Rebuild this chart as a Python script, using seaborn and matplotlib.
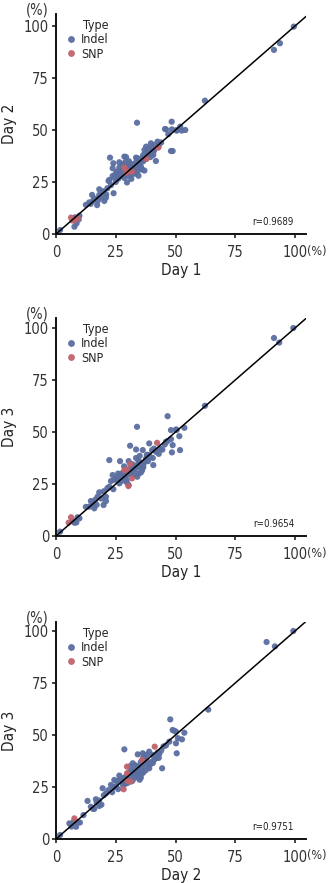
import matplotlib
matplotlib.use("Agg")
import matplotlib.pyplot as plt
import seaborn as sns
import pandas as pd

# ---- data ---------------------------------------------------------------
# panel 1: Day 1 vs Day 2
p1_indel_x = [99.5, 93.7, 91.2, 62.3, 33.9, 48.4, 46.0, 48.5, 52.0, 54.1, 50.5, 42.5, 39.7,
              37.7, 39.0, 41.1, 40.4, 40.7, 41.8, 48.1, 48.8, 37.0, 22.6, 28.6, 33.5, 29.3,
              23.7, 26.5, 29.7, 23.7, 22.3, 24.1, 18.1, 18.1, 15.1, 19.5, 13.9, 17.2, 20.2,
              20.9, 16.0, 9.8, 8.6, 7.7, 1.7, 35.0, 34.5, 36.0, 37.0, 33.0, 32.0, 31.0, 30.0,
              29.0, 27.5, 26.5, 24.0, 25.5, 27.0, 28.5, 31.5, 32.5, 34.0, 26.0, 24.5, 21.5,
              20.0, 16.5, 14.5, 12.5, 36.0, 31.0, 28.0, 33.5, 35.0, 37.5, 38.5, 39.5, 41.0,
              44.0, 31.5, 34.5, 35.5, 22.0, 26.5, 33.0, 34.0, 36.5, 38.0, 30.5, 25.0, 47.0,
              45.6, 52.6, 50.5, 30.0, 32.5, 34.0, 35.5, 29.5, 27.5, 26.0, 25.0, 36.5, 38.5,
              40.0, 43.0, 19.0, 17.5, 15.5, 21.0, 23.0, 28.0, 30.5, 9.5, 8.0]
p1_indel_y = [99.7, 91.7, 88.5, 64.1, 53.5, 54.0, 50.3, 50.3, 51.6, 50.0, 49.7, 44.4, 43.6,
              42.0, 41.2, 42.8, 39.6, 38.0, 35.1, 39.9, 39.9, 40.4, 36.7, 37.2, 36.7, 37.0,
              31.6, 27.6, 24.8, 27.9, 26.0, 19.6, 21.5, 18.8, 18.8, 20.4, 15.2, 13.9, 15.9,
              17.5, 16.8, 8.8, 5.1, 3.5, 1.9, 35.0, 33.0, 31.0, 30.5, 31.5, 33.5, 34.0, 33.0,
              34.5, 33.0, 32.0, 34.0, 30.0, 28.0, 27.0, 28.5, 29.5, 30.0, 26.5, 27.0, 22.0,
              20.5, 17.0, 14.5, 14.0, 36.5, 31.5, 29.5, 34.5, 33.5, 36.0, 38.0, 37.0, 40.0,
              44.0, 26.5, 28.0, 31.5, 25.5, 34.5, 29.0, 32.0, 35.0, 39.5, 31.0, 29.0, 48.0,
              50.5, 49.7, 50.0, 28.0, 31.0, 36.5, 32.5, 32.5, 30.5, 29.0, 25.0, 38.0, 39.0,
              41.5, 42.5, 17.5, 16.0, 16.0, 19.0, 23.5, 33.5, 35.0, 7.0, 8.0]
p1_snp_x = [42.8, 37.9, 28.6, 30.0, 31.8, 29.5, 6.3, 7.7, 9.1, 6.8]
p1_snp_y = [41.5, 36.1, 31.9, 30.0, 30.0, 29.5, 7.9, 6.7, 7.5, 6.5]

# panel 2: Day 1 vs Day 3
p2_indel_x = [99.3, 91.2, 93.4, 62.3, 46.7, 33.9, 48.1, 50.2, 53.7, 51.6, 48.1, 48.8, 48.5,
              51.9, 46.0, 39.0, 31.0, 33.5, 36.3, 40.2, 41.8, 22.3, 26.8, 30.4, 37.7, 40.7,
              34.2, 23.7, 23.0, 25.8, 26.5, 29.6, 30.4, 22.3, 18.1, 20.9, 20.9, 19.9, 17.4,
              14.6, 13.9, 16.0, 9.8, 7.7, 7.0, 1.7, 35.0, 34.0, 33.0, 32.0, 36.0, 37.0, 38.5,
              35.5, 34.5, 32.5, 31.5, 30.0, 29.0, 28.0, 27.0, 26.0, 25.0, 24.5, 33.5, 36.5,
              38.0, 39.5, 42.0, 43.5, 44.5, 32.0, 34.0, 27.5, 21.5, 20.0, 16.5, 15.5, 12.5,
              9.0, 43.0, 40.5, 35.0, 28.5, 31.0, 36.0, 29.5, 24.0, 45.5, 46.5, 33.0, 34.5,
              36.5, 35.5, 31.0, 29.0, 27.0, 25.5, 38.5, 41.0, 19.0, 17.0, 8.5, 50.5]
p2_indel_y = [100.0, 95.2, 93.0, 62.6, 57.6, 52.5, 50.9, 51.2, 52.0, 48.0, 46.6, 43.7, 40.2,
              41.3, 45.3, 44.5, 43.4, 41.6, 41.3, 41.3, 40.5, 36.5, 36.0, 36.0, 37.3, 34.1,
              33.3, 29.3, 26.4, 26.9, 25.3, 25.8, 24.5, 23.7, 21.0, 18.9, 16.8, 14.9, 18.9,
              16.8, 14.1, 13.3, 8.5, 6.4, 7.2, 2.1, 35.5, 34.0, 33.0, 31.5, 32.5, 35.5, 36.0,
              30.5, 30.0, 29.5, 31.0, 30.0, 29.0, 30.5, 28.5, 30.0, 27.5, 27.0, 37.5, 33.0,
              39.0, 38.0, 41.0, 42.0, 41.5, 34.5, 28.5, 26.5, 23.0, 21.5, 17.5, 15.5, 14.0,
              9.0, 39.5, 37.5, 38.5, 33.5, 29.5, 31.5, 27.0, 22.5, 44.0, 45.5, 32.0, 36.0,
              34.0, 33.0, 32.5, 27.5, 29.5, 28.0, 39.0, 42.0, 18.0, 15.0, 6.5, 51.0]
p2_snp_x = [42.3, 31.0, 28.6, 29.6, 31.8, 30.3, 6.3, 5.3]
p2_snp_y = [44.8, 34.6, 31.7, 32.0, 27.7, 24.0, 9.0, 6.4]

# panel 3: Day 2 vs Day 3
p3_indel_x = [99.3, 88.1, 91.6, 63.7, 47.8, 48.8, 50.2, 53.7, 52.7, 50.2, 47.4, 50.5, 44.4,
              28.6, 34.2, 36.3, 39.0, 40.4, 41.8, 43.2, 32.1, 24.4, 25.1, 23.0, 19.5, 13.2,
              16.7, 14.6, 18.1, 8.4, 5.6, 10.0, 1.7, 33.0, 34.0, 35.0, 36.0, 37.0, 38.0,
              33.5, 32.5, 31.5, 30.5, 29.5, 28.5, 27.5, 26.5, 25.5, 34.5, 35.5, 37.5, 39.5,
              41.0, 42.5, 44.0, 45.0, 33.0, 36.5, 31.0, 27.0, 22.0, 21.0, 20.0, 18.0, 17.0,
              15.5, 11.5, 7.5, 38.5, 36.0, 34.0, 30.0, 26.0, 24.0, 40.0, 43.0, 46.0, 35.0,
              32.0, 29.0, 37.0, 39.0, 34.0, 35.5, 36.5, 33.0, 31.5, 38.0, 40.5, 42.0, 30.0,
              28.0, 26.0, 23.5, 19.0, 16.0, 51.0, 49.5, 9.0, 6.5]
p3_indel_y = [100.0, 94.7, 92.6, 62.2, 57.5, 52.4, 51.6, 51.1, 47.9, 46.0, 46.8, 41.2, 34.0,
              43.1, 40.7, 41.2, 42.0, 40.4, 38.8, 40.9, 36.4, 28.4, 25.2, 26.0, 24.4, 18.3,
              19.1, 15.5, 15.9, 5.9, 7.5, 7.9, 1.9, 33.0, 35.0, 33.5, 34.5, 36.0, 37.5,
              30.0, 31.5, 30.5, 32.0, 30.0, 29.5, 28.0, 30.5, 27.5, 31.0, 29.5, 33.0, 36.0,
              38.0, 41.5, 42.5, 44.5, 35.5, 39.0, 35.0, 29.0, 23.5, 22.0, 21.0, 18.5, 17.5,
              14.5, 11.5, 8.5, 35.0, 31.5, 32.5, 27.0, 24.0, 25.0, 37.0, 39.0, 45.0, 28.5,
              28.0, 26.5, 39.5, 34.0, 31.5, 37.0, 32.0, 29.5, 33.0, 40.5, 36.5, 39.5, 29.0,
              26.0, 28.0, 22.5, 16.5, 14.5, 48.5, 52.0, 8.0, 6.0]
p3_snp_x = [41.3, 36.0, 29.7, 29.7, 30.0, 31.4, 28.3, 7.7]
p3_snp_y = [44.4, 38.0, 34.8, 31.6, 27.9, 27.6, 23.9, 9.9]

panels = [
    ("Day 1", "Day 2", "r=0.9689", p1_indel_x, p1_indel_y, p1_snp_x, p1_snp_y),
    ("Day 1", "Day 3", "r=0.9654", p2_indel_x, p2_indel_y, p2_snp_x, p2_snp_y),
    ("Day 2", "Day 3", "r=0.9751", p3_indel_x, p3_indel_y, p3_snp_x, p3_snp_y),
]
ticks = [0, 25, 50, 75, 100]
palette = {"Indel": "#5a6ea0", "SNP": "#c0626c"}

# ---- style --------------------------------------------------------------
sns.set_style("ticks")
plt.rcParams["font.family"] = ["DejaVu Sans"]
plt.rcParams["font.stretch"] = "condensed"
plt.rcParams["axes.linewidth"] = 1.4
plt.rcParams["xtick.major.width"] = 1.2
plt.rcParams["ytick.major.width"] = 1.2
plt.rcParams["xtick.major.size"] = 3
plt.rcParams["ytick.major.size"] = 3

fig = plt.figure(figsize=(3.31, 8.83), dpi=100)

# axes rectangles in figure pixels: (left, bottom_from_top, top_from_top)
rects = [(56, 234, 14), (56, 536, 318), (56, 839, 622)]
W, H = 331, 883

for (xl, yl, rtxt, ix, iy, sx, sy), (left, bot, top) in zip(panels, rects):
    ax = fig.add_axes([left / W, 1 - bot / H, 250 / W, (bot - top) / H])
    df = pd.DataFrame({
        "x": ix + sx,
        "y": iy + sy,
        "Type": ["Indel"] * len(ix) + ["SNP"] * len(sx),
    })
    sns.scatterplot(data=df, x="x", y="y", hue="Type", palette=palette, s=20,
                    linewidth=0, alpha=0.95, ax=ax, clip_on=False, zorder=2)
    ax.axline((0, 0), slope=1, color="black", lw=1.1, zorder=3)
    ax.set_xlim(0, 104.6)
    ax.set_ylim(0, (bot - top) / 2.08)
    ax.set_xticks(ticks)
    ax.set_yticks(ticks)
    ax.tick_params(labelsize=10.5, colors="#222222", labelcolor="#333333")
    ax.tick_params(axis="x", pad=5)
    ax.tick_params(axis="y", pad=2)
    ax.set_xlabel(xl, fontsize=11, labelpad=2, color="#222222")
    ax.set_ylabel(yl, fontsize=11, labelpad=5, color="#222222")
    sns.despine(ax=ax)
    for sp in ax.spines.values():
        sp.set_color("#111111")
    sns.move_legend(ax, "upper left", bbox_to_anchor=(0.02, 1.0), frameon=False,
                    title="Type", fontsize=9, title_fontsize=9, alignment="right",
                    handlelength=0.8, handletextpad=0.4, labelspacing=0.1,
                    borderaxespad=0, markerscale=1.1)
    ph = bot - top
    ax.text(-19 / 250, (ph + 4) / ph, "(%)", transform=ax.transAxes, ha="center",
            va="center", fontsize=10.5, color="#333333")
    ax.text(251 / 250, -17 / ph, "(%)", transform=ax.transAxes, ha="left",
            va="center", fontsize=9, color="#333333")
    ax.text(0.952, 12 / ph, rtxt, transform=ax.transAxes, ha="right", va="center",
            fontsize=7, color="#222222")

fig.savefig("out.png", dpi=100)
